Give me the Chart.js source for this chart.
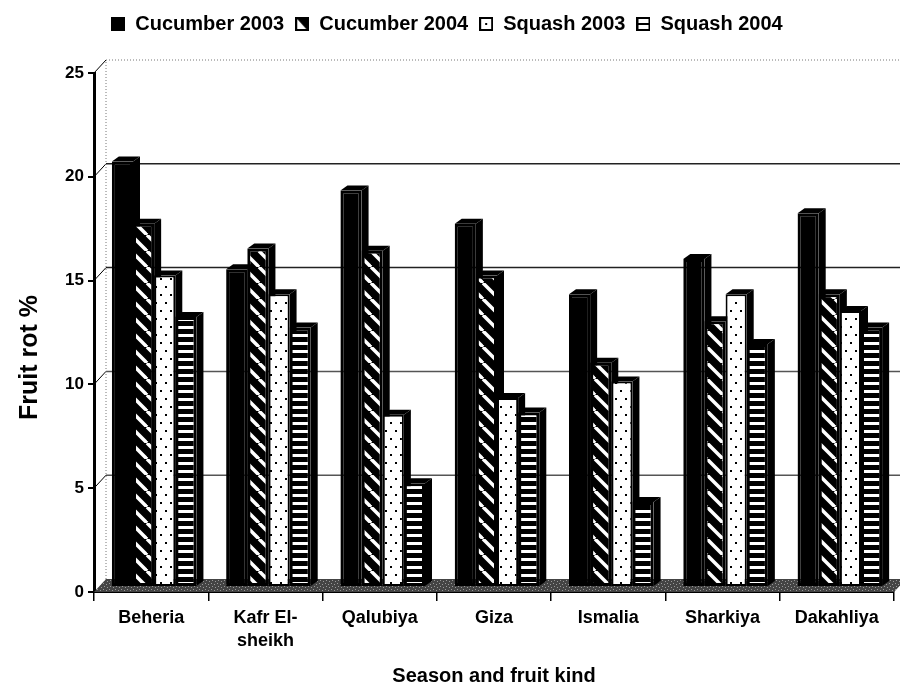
<!DOCTYPE html>
<html>
<head>
<meta charset="utf-8">
<title>Fruit rot %</title>
<script src="https://cdn.jsdelivr.net/npm/chart.js@4.4.1/dist/chart.umd.min.js"></script>
<style>
  html, body { margin: 0; padding: 0; background: #fff; }
  #wrap { width: 900px; height: 688px; }
</style>
</head>
<body>
<div id="wrap"><canvas id="chart" width="900" height="688"></canvas></div>
<script>
// ── Data ─────────────────────────────────────────────────────────────────────
const regions = ['Beheria', ['Kafr El-', 'sheikh'], 'Qalubiya', 'Giza', 'Ismalia', 'Sharkiya', 'Dakahliya'];
const seriesNames = ['Cucumber 2003', 'Cucumber 2004', 'Squash 2003', 'Squash 2004'];
const cucumber2003 = [20.5, 15.3, 19.1, 17.5, 14.1, 15.8, 18.0];
const cucumber2004 = [17.5, 16.3, 16.2, 15.0, 10.8, 12.8, 14.1];
const squash2003   = [15.0, 14.1,  8.3,  9.1,  9.9, 14.1, 13.3];
const squash2004   = [13.0, 12.5,  5.0,  8.4,  4.1, 11.7, 12.5];
const yMin = 0, yMax = 25, yStep = 5;
const yTitle = 'Fruit rot %';
const xTitle = 'Season and fruit kind';

const FONT = '"Liberation Sans", Arial, Helvetica, sans-serif';

// ── Fill patterns ────────────────────────────────────────────────────────────
function makeTile(w, h, paint) {
  const c = document.createElement('canvas');
  c.width = w; c.height = h;
  paint(c.getContext('2d'), w, h);
  return c;
}
function pattern(tile) {
  return document.createElement('canvas').getContext('2d').createPattern(tile, 'repeat');
}

const diagTile = makeTile(16, 16, (g, w, h) => {
  g.fillStyle = '#000'; g.fillRect(0, 0, w, h);
  g.strokeStyle = '#fff'; g.lineWidth = 3.5;
  [-w, 0, w].forEach(o => {
    g.beginPath(); g.moveTo(o, 0); g.lineTo(o + w, h); g.stroke();
  });
});
const dotTile = makeTile(10, 16, (g, w, h) => {
  g.fillStyle = '#fff'; g.fillRect(0, 0, w, h);
  g.fillStyle = '#000';
  g.fillRect(2, 3, 2, 2);
  g.fillRect(7, 11, 2, 2);
});
const hlineTile = makeTile(8, 8, (g, w, h) => {
  g.fillStyle = '#000'; g.fillRect(0, 0, w, h);
  g.fillStyle = '#fff'; g.fillRect(0, 3, w, 3);
});
const floorTile = makeTile(6, 6, (g, w, h) => {
  g.fillStyle = '#444'; g.fillRect(0, 0, w, h);
  g.fillStyle = '#999';
  g.fillRect(1, 1, 1, 1); g.fillRect(4, 2, 1, 1); g.fillRect(2, 4, 1, 1); g.fillRect(5, 5, 1, 1);
});

const fills = ['#000', pattern(diagTile), pattern(dotTile), pattern(hlineTile)];
const floorFill = pattern(floorTile);

// ── Legend icons ─────────────────────────────────────────────────────────────
const legendIcons = [
  makeTile(14, 14, (g, w, h) => { g.fillStyle = '#000'; g.fillRect(0, 0, w, h); }),
  makeTile(14, 14, (g, w, h) => {
    g.fillStyle = '#000'; g.fillRect(0, 0, w, h);
    g.fillStyle = '#fff';
    g.beginPath(); g.moveTo(2, 2); g.lineTo(2, h - 2); g.lineTo(w - 3, h - 2); g.closePath(); g.fill();
  }),
  makeTile(14, 14, (g, w, h) => {
    g.fillStyle = '#000'; g.fillRect(0, 0, w, h);
    g.fillStyle = '#fff'; g.fillRect(2, 2, w - 4, h - 4);
    g.fillStyle = '#000'; g.fillRect(6, 6, 2, 2);
  }),
  makeTile(14, 14, (g, w, h) => {
    g.fillStyle = '#000'; g.fillRect(0, 0, w, h);
    g.fillStyle = '#fff'; g.fillRect(2, 2, w - 4, h - 4);
    g.fillStyle = '#000'; g.fillRect(2, 6, w - 4, 2);
  }),
];

// ── 3D look ──────────────────────────────────────────────────────────────────
const wallShift = { dx: 12, dy: -13 };   // back wall relative to the front axes
const barShift  = { dx: 3,  dy: -5 };    // bars stand in the middle of the floor
const barDepth  = { dx: 7,  dy: -5 };    // side / top faces of each bar

function drawBarFaces(ctx, bar) {
  const { x, y, base, width } = bar.getProps(['x', 'y', 'base', 'width'], true);
  const l = x - width / 2, r = x + width / 2;
  ctx.beginPath();
  ctx.moveTo(r, y);
  ctx.lineTo(r + barDepth.dx, y + barDepth.dy);
  ctx.lineTo(r + barDepth.dx, base + barDepth.dy);
  ctx.lineTo(r, base);
  ctx.closePath();
  ctx.fill();
  ctx.beginPath();
  ctx.moveTo(l, y);
  ctx.lineTo(l + barDepth.dx, y + barDepth.dy);
  ctx.lineTo(r + barDepth.dx, y + barDepth.dy);
  ctx.lineTo(r, y);
  ctx.closePath();
  ctx.fill();
}

const threeD = {
  id: 'threeD',
  beforeLayout(chart) {
    const lg = chart.legend;
    if (lg && !lg._padded) {
      const fit = lg.fit;
      lg.fit = function () { fit.call(this); this.height += 29; };
      lg._padded = true;
    }
  },
  beforeDatasetsDraw(chart) {
    const { ctx, chartArea: a, scales: { y } } = chart;
    ctx.save();

    // back wall grid lines + connectors from the front axis
    for (let v = yMin + yStep; v < yMax; v += yStep) {
      const py = y.getPixelForValue(v);
      ctx.strokeStyle = v >= 15 ? '#222' : '#555';
      ctx.lineWidth = 1.5;
      ctx.beginPath();
      ctx.moveTo(a.left + wallShift.dx, py + wallShift.dy);
      ctx.lineTo(a.right + wallShift.dx, py + wallShift.dy);
      ctx.stroke();
      ctx.strokeStyle = '#000';
      ctx.lineWidth = 1;
      ctx.beginPath();
      ctx.moveTo(a.left, py);
      ctx.lineTo(a.left + wallShift.dx, py + wallShift.dy);
      ctx.stroke();
    }

    // dotted wall edges
    const topY = y.getPixelForValue(yMax);
    ctx.setLineDash([1, 2]);
    ctx.strokeStyle = '#777';
    ctx.lineWidth = 1;
    ctx.beginPath();
    ctx.moveTo(a.left + wallShift.dx, a.bottom + wallShift.dy);
    ctx.lineTo(a.left + wallShift.dx, topY + wallShift.dy);
    ctx.lineTo(a.right + wallShift.dx, topY + wallShift.dy);
    ctx.stroke();
    ctx.setLineDash([]);
    ctx.strokeStyle = '#000';
    ctx.beginPath();
    ctx.moveTo(a.left, topY);
    ctx.lineTo(a.left + wallShift.dx, topY + wallShift.dy);
    ctx.stroke();

    // floor
    ctx.fillStyle = floorFill;
    ctx.beginPath();
    ctx.moveTo(a.left, a.bottom);
    ctx.lineTo(a.left + wallShift.dx, a.bottom + wallShift.dy);
    ctx.lineTo(a.right + wallShift.dx, a.bottom + wallShift.dy);
    ctx.lineTo(a.right, a.bottom);
    ctx.closePath();
    ctx.fill();
    ctx.restore();

    // bars: shift into the middle of the floor, then draw every side/top face
    // first so each front face covers the side of its left neighbour
    ctx.save();
    ctx.translate(barShift.dx, barShift.dy);
    ctx.save();
    ctx.fillStyle = '#000';
    chart.data.datasets.forEach((ds, i) => {
      chart.getDatasetMeta(i).data.forEach(bar => drawBarFaces(ctx, bar));
    });
    ctx.restore();
  },
  afterDatasetsDraw(chart) {
    chart.ctx.restore();
  },
  afterDraw(chart) {
    // y axis title, centred on the plot including its depth
    const { ctx, chartArea: a } = chart;
    ctx.save();
    ctx.translate(30, (a.top + a.bottom) / 2 + 25);
    ctx.rotate(-Math.PI / 2);
    ctx.fillStyle = '#000';
    ctx.font = 'bold 25px ' + FONT;
    ctx.textAlign = 'center';
    ctx.textBaseline = 'middle';
    ctx.fillText(yTitle, 0, 0);
    ctx.restore();
  },
};

// ── Chart ────────────────────────────────────────────────────────────────────
const seriesValues = [cucumber2003, cucumber2004, squash2003, squash2004];
const datasets = seriesValues.map((vals, i) => ({
  label: seriesNames[i],
  data: vals,
  backgroundColor: fills[i],
  borderColor: '#000',
  borderWidth: i === 2 ? 2 : 3,
  borderSkipped: false,
  clip: false,
}));

new Chart(document.getElementById('chart'), {
  type: 'bar',
  data: { labels: regions, datasets },
  options: {
    responsive: false,
    animation: false,
    layout: { padding: { top: 3, right: 6, left: 0, bottom: 0 } },
    datasets: { bar: { categoryPercentage: 0.74, barPercentage: 1.0 } },
    plugins: {
      tooltip: { enabled: false },
      legend: {
        position: 'top',
        labels: {
          usePointStyle: true,
          boxWidth: 14,
          padding: 11,
          color: '#000',
          font: { family: FONT, size: 20, weight: 'bold' },
          generateLabels(chart) {
            const items = Chart.defaults.plugins.legend.labels.generateLabels(chart);
            items.forEach(it => { it.pointStyle = legendIcons[it.datasetIndex]; });
            return items;
          },
        },
      },
    },
    scales: {
      x: {
        afterFit(scale) { scale.height = 96; },
        grid: { offset: true, drawOnChartArea: false, tickLength: 9, color: '#000', lineWidth: 1.5 },
        border: { display: true, color: '#000', width: 2 },
        ticks: {
          color: '#000', padding: 6, maxRotation: 0, autoSkip: false,
          font: { family: FONT, size: 18, weight: 'bold', lineHeight: 1.25 },
        },
        title: {
          display: true, text: xTitle, color: '#000',
          padding: { top: 0, bottom: 0 },
          font: { family: FONT, size: 20, weight: 'bold' },
        },
      },
      y: {
        min: yMin, max: yMax,
        afterFit(scale) { scale.width = 94; },
        grid: { drawOnChartArea: false, tickLength: 6, color: '#000', lineWidth: 2 },
        border: { display: true, color: '#000', width: 3 },
        ticks: {
          stepSize: yStep, color: '#000', padding: 4,
          font: { family: FONT, size: 17, weight: 'bold' },
        },
      },
    },
  },
  plugins: [threeD],
});
</script>
</body>
</html>
